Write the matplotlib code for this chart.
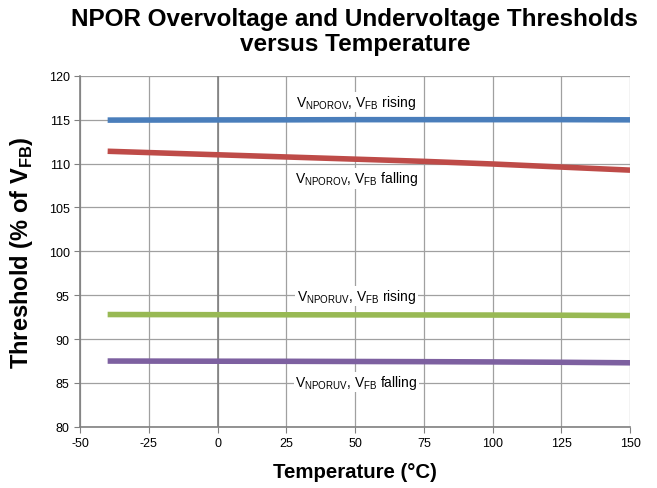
import matplotlib
matplotlib.use("Agg")
import matplotlib.pyplot as plt
import numpy as np

plt.rcParams['font.family'] = ['Liberation Sans', 'DejaVu Sans']
plt.rcParams['mathtext.fontset'] = 'custom'
plt.rcParams['mathtext.rm'] = 'Liberation Sans'
plt.rcParams['mathtext.bf'] = 'Liberation Sans:bold'
plt.rcParams['axes.unicode_minus'] = False

temp = [-40, 0, 25, 50, 75, 100, 125, 150]
ov_rising = [114.95, 114.97, 114.98, 115.0, 115.0, 115.0, 115.0, 114.98]
ov_falling = [111.4, 111.0, 110.75, 110.5, 110.25, 109.95, 109.6, 109.25]
uv_rising = [92.8, 92.78, 92.77, 92.76, 92.75, 92.74, 92.72, 92.68]
uv_falling = [87.5, 87.48, 87.47, 87.45, 87.43, 87.4, 87.36, 87.3]

xticks = np.arange(-50, 151, 25)
yticks = np.arange(80, 121, 5)

fig = plt.figure(figsize=(6.57, 4.89), dpi=100)
ax = fig.add_axes([0.122, 0.125, 0.837, 0.718])

ax.plot(temp, ov_rising, color='#4a7ebb', lw=4, solid_capstyle='butt', zorder=3)
ax.plot(temp, ov_falling, color='#be4b48', lw=4, solid_capstyle='butt', zorder=3)
ax.plot(temp, uv_rising, color='#98b954', lw=4, solid_capstyle='butt', zorder=3)
ax.plot(temp, uv_falling, color='#7d60a0', lw=4, solid_capstyle='butt', zorder=3)

ax.set_xlim(-50, 150)
ax.set_ylim(80, 120)
ax.set_xticks(xticks)
ax.set_yticks(yticks)
ax.grid(True, color='#a0a0a0', lw=0.9)
ax.axvline(0, color='#808080', lw=1.2, zorder=2)
for s in ['top', 'right']:
    ax.spines[s].set_visible(False)
for s in ['left', 'bottom']:
    ax.spines[s].set_color('#808080')
    ax.spines[s].set_linewidth(1.2)
ax.tick_params(colors='#808080', labelcolor='black', labelsize=9, length=4)

bbox = dict(facecolor='white', edgecolor='none', pad=1)
kw = dict(ha='center', va='center', fontsize=10, bbox=bbox, zorder=4)
ax.text(50.5, 117.0, r'V$_{\rm NPOROV}$, V$_{\rm FB}$ rising', **kw)
ax.text(50.5, 108.3, r'V$_{\rm NPOROV}$, V$_{\rm FB}$ falling', **kw)
ax.text(50.5, 94.9, r'V$_{\rm NPORUV}$, V$_{\rm FB}$ rising', **kw)
ax.text(50.5, 85.1, r'V$_{\rm NPORUV}$, V$_{\rm FB}$ falling', **kw)

ax.set_xlabel('Temperature (°C)', fontsize=14.7, fontweight='bold', labelpad=9)
ax.set_ylabel(r'Threshold (% of V$_{\mathbf{FB}}$)', fontsize=17, fontweight='bold', labelpad=10)
fig.suptitle('NPOR Overvoltage and Undervoltage Thresholds\nversus Temperature',
             x=0.54, y=0.984, fontsize=17.5, fontweight='bold', linespacing=1.12)

fig.savefig('out.png', dpi=100)
